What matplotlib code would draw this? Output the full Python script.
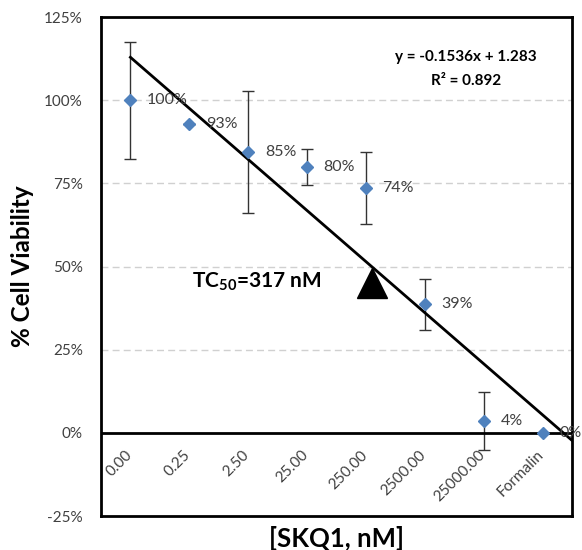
import matplotlib.pyplot as plt
import numpy as np

plt.rcParams['font.family'] = ['Lato', 'DejaVu Sans']
plt.rcParams['mathtext.fontset'] = 'custom'
plt.rcParams['mathtext.rm'] = 'Lato'
plt.rcParams['mathtext.bf'] = 'Lato:bold'

# data
categories = ["0.00", "0.25", "2.50", "25.00", "250.00", "2500.00", "25000.00", "Formalin"]
viability = [1.00, 0.93, 0.845, 0.80, 0.737, 0.386, 0.036, 0.0]
errors = [0.176, 0.0, 0.183, 0.055, 0.108, 0.077, 0.088, 0.0]
labels = ["100%", "93%", "85%", "80%", "74%", "39%", "4%", "0%"]

slope, intercept = -0.1536, 1.283
r2 = 0.892
tc50_x, tc50_y = 5.1, 0.45

x = np.arange(1, len(categories) + 1)

fig = plt.figure(figsize=(5.82, 5.5), dpi=100)
ax = fig.add_axes([0.1735, 0.0618, 0.8093, 0.907])

ax.set_xlim(0.5, len(categories) + 0.5)
ax.set_ylim(-0.25, 1.25)

for y in [0.25, 0.5, 0.75, 1.0]:
    ax.axhline(y, color="#d0d0d0", lw=1, ls=(0, (5, 3)), zorder=0)

ax.errorbar(x, viability, yerr=errors, fmt="none", ecolor="#333333",
            elinewidth=1, capsize=4, capthick=1, zorder=2)

# linear trendline (extends half a category forward)
tx = np.array([1, len(categories) + 0.5])
ax.plot(tx, slope * tx + intercept, color="black", lw=2, zorder=3)

ax.plot(x, viability, "D", color="#4f81bd", ms=6.5, zorder=4)

for xi, yi, lab in zip(x, viability, labels):
    ax.annotate(lab, (xi, yi), xytext=(12, 0), textcoords="offset points",
                ha="left", va="center", fontsize=11.5, color="#404040", zorder=5)

ax.plot([tc50_x], [tc50_y], "^", color="black", ms=21, zorder=5)
ax.text(2.05, 0.455, "TC$_{\\mathbf{50}}$=317 nM", fontsize=15, fontweight="bold",
        ha="left", va="center")

ax.text(6.7, 1.095, f"y = {slope}x + {intercept}\nR² = {r2}", fontsize=11,
        fontweight="bold", ha="center", va="center", linespacing=1.9)

# horizontal axis crosses at 0
ax.axhline(0, color="black", lw=2, zorder=3)
ax.set_xticks(x)
ax.set_xticklabels([])
ax.tick_params(axis="x", length=0)
for xi, cat in zip(x, categories):
    ax.text(xi + 0.07, -0.045, cat, rotation=45, ha="right", va="top",
            fontsize=11, color="#404040")

ax.set_yticks(np.arange(-0.25, 1.26, 0.25))
ax.set_yticklabels([f"{int(round(v * 100))}%" for v in np.arange(-0.25, 1.26, 0.25)],
                   fontsize=11, color="#404040")
ax.tick_params(axis="y", length=0, pad=13)

for s in ax.spines.values():
    s.set_linewidth(2)
    s.set_color("black")

ax.set_ylabel("% Cell Viability", fontsize=17.5, fontweight="bold", labelpad=7)
ax.set_xlabel("[SKQ1, nM]", fontsize=18.5, fontweight="bold", labelpad=4)

fig.savefig("out.png", dpi=100)
